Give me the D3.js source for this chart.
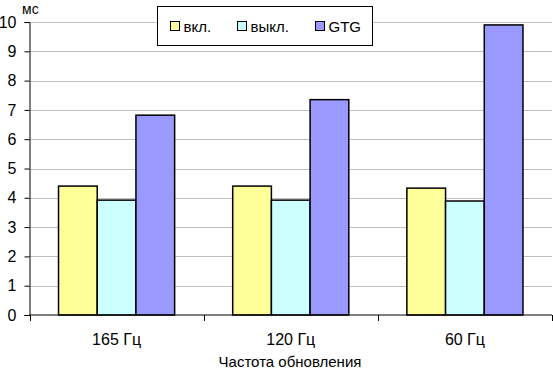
<!DOCTYPE html>
<html>
<head>
<meta charset="utf-8">
<script src="https://cdn.jsdelivr.net/npm/d3@7"></script>
<style>
  body { margin: 0; background: #fff; }
  text { font-family: "Liberation Sans", Arial, sans-serif; font-size: 15px; fill: #000; }
</style>
</head>
<body>
<div id="chart"></div>
<script>
var categories = ["165 Гц", "120 Гц", "60 Гц"];
var seriesNames = ["вкл.", "выкл.", "GTG"];
var seriesColors = ["#ffff99", "#ccffff", "#9999ff"];
var vkl = [4.4, 4.4, 4.33];
var vykl = [3.92, 3.92, 3.89];
var gtg = [6.82, 7.35, 9.9];
var yTicks = [0, 1, 2, 3, 4, 5, 6, 7, 8, 9, 10];

var width = 553, height = 371;
var margin = {left: 29.5, right: 1, top: 22, bottom: 56};

var svg = d3.select("#chart").append("svg")
    .attr("width", width)
    .attr("height", height);

var x = d3.scaleBand()
    .domain(categories)
    .range([margin.left, width - margin.right]);

var xs = d3.scaleBand()
    .domain(seriesNames)
    .range([0, x.bandwidth()])
    .paddingOuter(0.75);

var y = d3.scaleLinear()
    .domain([0, 10])
    .range([height - margin.bottom, margin.top]);

// gridlines
svg.append("g")
  .selectAll("line")
  .data(yTicks.slice(1))
  .join("line")
    .attr("x1", margin.left)
    .attr("x2", width - margin.right)
    .attr("y1", function(d) { return Math.round(y(d)) + 0.5; })
    .attr("y2", function(d) { return Math.round(y(d)) + 0.5; })
    .attr("stroke", "#c0c0c0");

var rows = [vkl, vykl, gtg];
var data = [];
categories.forEach(function(c, i) {
  seriesNames.forEach(function(s, j) {
    data.push({cat: c, s: s, v: rows[j][i], color: seriesColors[j]});
  });
});

svg.append("g")
  .selectAll("rect")
  .data(data)
  .join("rect")
    .attr("x", function(d) { return x(d.cat) + xs(d.s); })
    .attr("y", function(d) { return y(d.v); })
    .attr("width", xs.bandwidth())
    .attr("height", function(d) { return y(0) - y(d.v); })
    .attr("fill", function(d) { return d.color; })
    .attr("stroke", "#000")
    .attr("stroke-width", 1.5);

// y axis
var yAxis = svg.append("g")
    .attr("transform", "translate(" + margin.left + ",0)")
    .call(d3.axisLeft(y).tickValues(yTicks).tickSize(5).tickPadding(8));
yAxis.select(".domain").attr("stroke", "#000");
yAxis.selectAll("text").style("font-size", "16px").attr("x", -13);

// x axis with ticks between categories
var xAxisG = svg.append("g")
    .attr("transform", "translate(0," + (height - margin.bottom) + ")");
xAxisG.append("line")
    .attr("x1", margin.left).attr("x2", width - margin.right)
    .attr("stroke", "#000");
var bounds = categories.map(function(c) { return x(c); }).concat([x.range()[1] - 0.5]);
xAxisG.selectAll(".tk")
  .data(bounds)
  .join("line")
    .attr("x1", function(d) { return Math.round(d) + 0.5; })
    .attr("x2", function(d) { return Math.round(d) + 0.5; })
    .attr("y1", 0).attr("y2", 6)
    .attr("stroke", "#000");
xAxisG.selectAll(".lbl")
  .data(categories)
  .join("text")
    .attr("x", function(d) { return x(d) + x.bandwidth() / 2; })
    .attr("y", 30)
    .attr("text-anchor", "middle")
    .style("font-size", "16px")
    .text(function(d) { return d; });

svg.append("text")
    .attr("x", 290)
    .attr("y", 367)
    .attr("text-anchor", "middle")
    .style("font-size", "15px")
    .text("Частота обновления");

svg.append("text")
    .attr("x", 22)
    .attr("y", 14)
    .style("font-size", "14px")
    .text("мс");

// legend
var legend = svg.append("g").attr("transform", "translate(157.5,6.5)");
legend.append("rect")
    .attr("width", 215).attr("height", 39)
    .attr("fill", "#fff").attr("stroke", "#000");
var legX = [13, 80, 158];
var items = legend.selectAll(".item")
  .data(seriesNames)
  .join("g")
    .attr("transform", function(d, i) { return "translate(" + legX[i] + ",15)"; });
items.append("rect")
    .attr("width", 9).attr("height", 9)
    .attr("fill", function(d, i) { return seriesColors[i]; })
    .attr("stroke", "#000");
items.append("text")
    .attr("x", 13).attr("y", 10)
    .style("font-size", "15px")
    .text(function(d) { return d; });
</script>
</body>
</html>
